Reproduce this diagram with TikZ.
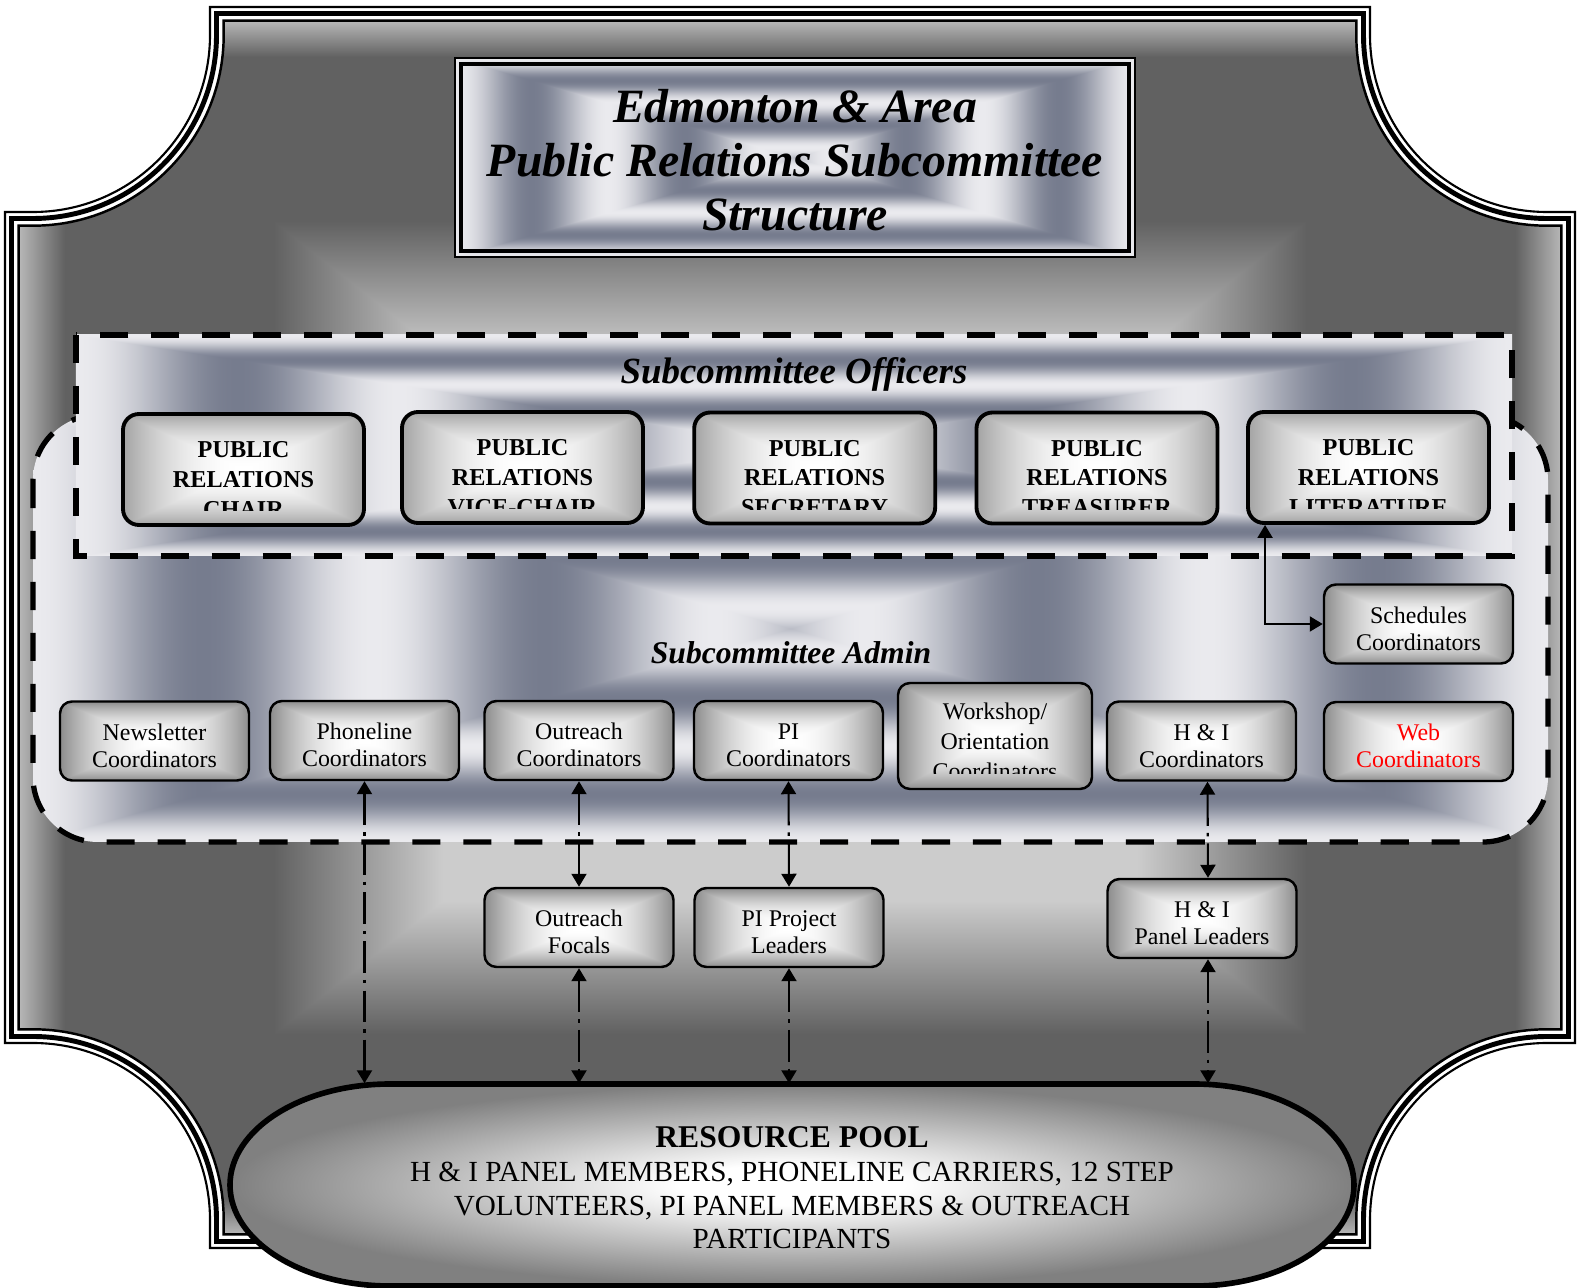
\documentclass[tikz,border=0pt]{standalone}
\usepackage{fontspec}
\setmainfont{Liberation Serif}
\usetikzlibrary{arrows.meta,positioning}

% concentric blue-grey bands (title, officers, admin)
\pgfdeclarefunctionalshading{steelband}{\pgfpoint{-50bp}{-50bp}}{\pgfpoint{50bp}{50bp}}{}{
  abs 25 div exch abs 25 div
  2 copy sub abs 3 1 roll add add 2 div
  1 exch sub 800 mul cos 1 add 2 div
  dup dup 0.376 mul 0.557 add
  exch 0.432 mul 0.486 add
  exch 3 -1 roll 0.455 mul 0.463 add 3 1 roll
}
% grey plaque behind everything
\pgfdeclarefunctionalshading{framegray}{\pgfpoint{-50bp}{-50bp}}{\pgfpoint{50bp}{50bp}}{}{
  abs 25 div exch abs 25 div
  2 copy sub abs 3 1 roll add add 2 div
  1 exch sub
  dup 0.33 sub 0.22 div dup abs exch 1 sub abs sub 1 add 2 div
  0.42 mul exch
  0.06 div 1 exch sub dup abs add 2 div 0.34 mul
  add 0.38 add dup dup
}
\pgfdeclarefunctionalshading{boxglow}{\pgfpoint{-50bp}{-50bp}}{\pgfpoint{50bp}{50bp}}{}{
  abs 25 div exch abs 25 div
  2 copy sub abs 3 1 roll add add 2 div
  dup mul 0.45 mul 1 exch sub dup dup
}
\pgfdeclarefunctionalshading{officerglow}{\pgfpoint{-50bp}{-50bp}}{\pgfpoint{50bp}{50bp}}{}{
  abs 25 div exch abs 25 div
  2 copy sub abs 3 1 roll add add 2 div
  dup mul 0.36 mul 1 exch sub dup dup
}
\pgfdeclareradialshading{poolglow}{\pgfpoint{0bp}{0bp}}{color(0bp)=(white); color(5bp)=(white); color(25bp)=(black!50); color(50bp)=(black!50)}

% outline of the plaque, #1 = inset
\newcommand{\plaquepath}[1]{(2.10+#1,-0.07-#1) -- (13.70-#1,-0.07-#1) -- (13.70-#1,-0.35)
  arc[start angle=180,end angle=270,radius=1.77+#1] -- (15.75-#1,-2.12-#1)
  -- (15.75-#1,-10.43+#1) -- (15.47,-10.43+#1)
  arc[start angle=90,end angle=180,radius=1.77+#1] -- (13.70-#1,-12.48+#1)
  -- (2.10+#1,-12.48+#1) -- (2.10+#1,-12.20)
  arc[start angle=0,end angle=90,radius=1.77+#1] -- (0.05+#1,-10.43+#1)
  -- (0.05+#1,-2.12-#1) -- (0.33,-2.12-#1)
  arc[start angle=270,end angle=360,radius=1.77+#1] -- cycle}

\begin{document}
\begin{tikzpicture}[x=1cm,y=1cm]
\tikzset{
  titlebox/.style={rectangle,draw,line width=0.6pt,minimum width=6.8cm,minimum height=1.99cm,shade,shading=steelband},
  titletext/.style={align=center,inner sep=0pt,font=\fontsize{13.6}{15.4}\selectfont\bfseries\itshape},
  heading/.style={inner sep=0pt,font=\fontsize{#1}{#1}\selectfont\bfseries\itshape},
  areadash/.style={line width=1.5pt,dash pattern=on 8pt off 6.5pt},
  officerbox/.style={rectangle,rounded corners=1.6mm,draw,line width=1.1pt,minimum width=2.41cm,minimum height=1.11cm,shade,shading=officerglow},
  officertext/.style={align=center,inner sep=0pt,font=\fontsize{6.9}{8.5}\selectfont\bfseries},
  admintext/.style={align=center,inner sep=0pt,font=\fontsize{6.8}{7.7}\selectfont},
  adminbox/.style={admintext,text height=5.3mm,rectangle,rounded corners=1.2mm,draw,line width=0.7pt,minimum width=1.89cm,minimum height=0.79cm,shade,shading=boxglow},
  pooltext/.style={align=center,inner sep=0pt,minimum width=11.24cm,minimum height=2.08cm,font=\fontsize{8.3}{9.6}\selectfont},
  link/.style={<->,>={Triangle[length=1.3mm,width=1.5mm]},line width=0.6pt},
  dashlink/.style={link,dash pattern=on 9pt off 2pt on 1pt off 2pt}
}
\useasboundingbox (0,0) rectangle (15.78,-12.88);
\fill[white] (0,0) rectangle (15.78,-12.88);

% plaque
\shade[shading=framegray] \plaquepath{0.137};
\draw[line width=0.6pt] \plaquepath{0};
\draw[line width=1.4pt] \plaquepath{0.065};
\draw[line width=0.7pt] \plaquepath{0.137};

% title
\node[titlebox] (n_title) at (7.95,-1.575) {};
\draw[line width=1.2pt] ([shift={(0.07,-0.07)}]n_title.north west) rectangle ([shift={(-0.07,0.07)}]n_title.south east);
\node[titletext] (n_titletext) at (7.95,-1.60) {Edmonton \& Area\\Public Relations Subcommittee\\Structure};

% admin and officer areas
\draw[areadash,shade,shading=steelband,rounded corners=6.5mm] (0.33,-4.15) rectangle (15.48,-8.42);
\draw[areadash,shade,shading=steelband] (0.76,-3.35) rectangle (15.12,-5.56);
\node[heading=10.5] (n_offhead) at (7.94,-3.74) {Subcommittee Officers};
\node[heading=9] (n_adminhead) at (7.91,-6.53) {Subcommittee Admin};

% officers
\node[officerbox] (n_chair) at (2.435,-4.695) {};
\node[officerbox] (n_vice) at (5.225,-4.675) {};
\node[officerbox] (n_secretary) at (8.147,-4.68) {};
\node[officerbox] (n_treasurer) at (10.97,-4.68) {};
\node[officerbox] (n_literature) at (13.685,-4.675) {};
\begin{scope}
\clip (n_chair.north west) rectangle ([yshift=1.6mm]n_chair.south east);
\node[officertext] (n_chairtext) at ([yshift=-1mm]n_chair.center) {PUBLIC\\RELATIONS\\CHAIR};
\end{scope}
\begin{scope}
\clip (n_vice.north west) rectangle ([yshift=1.6mm]n_vice.south east);
\node[officertext] (n_vicetext) at ([yshift=-1mm]n_vice.center) {PUBLIC\\RELATIONS\\VICE-CHAIR};
\end{scope}
\begin{scope}
\clip (n_secretary.north west) rectangle ([yshift=1.6mm]n_secretary.south east);
\node[officertext] (n_secretarytext) at ([yshift=-1mm]n_secretary.center) {PUBLIC\\RELATIONS\\SECRETARY};
\end{scope}
\begin{scope}
\clip (n_treasurer.north west) rectangle ([yshift=1.6mm]n_treasurer.south east);
\node[officertext] (n_treasurertext) at ([yshift=-1mm]n_treasurer.center) {PUBLIC\\RELATIONS\\TREASURER};
\end{scope}
\begin{scope}
\clip (n_literature.north west) rectangle ([yshift=1.6mm]n_literature.south east);
\node[officertext] (n_literaturetext) at ([yshift=-1mm]n_literature.center) {PUBLIC\\RELATIONS\\LITERATURE};
\end{scope}

% coordinators
\node[adminbox] (n_schedules) at (14.185,-6.24) {Schedules\\Coordinators};
\node[adminbox] (n_newsletter) at (1.545,-7.41) {Newsletter\\Coordinators};
\node[adminbox] (n_phoneline) at (3.645,-7.405) {Phoneline\\Coordinators};
\node[adminbox] (n_outreach) at (5.79,-7.405) {Outreach\\Coordinators};
\node[adminbox] (n_pi) at (7.885,-7.405) {PI\\Coordinators};
\node[adminbox,minimum width=1.94cm,minimum height=1.06cm] (n_workshop) at (9.95,-7.36) {};
\begin{scope}
\clip (n_workshop.north west) rectangle ([yshift=1.7mm]n_workshop.south east);
\node[admintext,font=\fontsize{6.8}{8.5}\selectfont] (n_workshoptext) at ([yshift=-0.5mm]n_workshop.center) {Workshop/\\Orientation\\Coordinators};
\end{scope}
\node[adminbox] (n_hi) at (12.015,-7.41) {H \& I\\Coordinators};
\node[adminbox,text=red] (n_web) at (14.185,-7.415) {Web\\Coordinators};
\node[adminbox] (n_focals) at (5.79,-9.275) {Outreach\\Focals};
\node[adminbox] (n_pileaders) at (7.89,-9.275) {PI Project\\Leaders};
\node[adminbox] (n_panel) at (12.02,-9.185) {H \& I\\Panel Leaders};

% resource pool
\draw[line width=1.6pt,shade,shading=poolglow] (3.90,-10.84) -- (11.94,-10.84) arc[start angle=90,end angle=-90,x radius=1.6,y radius=1.01] -- (3.90,-12.86) arc[start angle=270,end angle=90,x radius=1.6,y radius=1.01] -- cycle;
\node[pooltext] (n_pool) at (7.92,-11.88) {{\fontsize{9}{9.7}\selectfont\bfseries RESOURCE POOL}\\H \& I PANEL MEMBERS, PHONELINE CARRIERS, 12 STEP\\VOLUNTEERS, PI PANEL MEMBERS \& OUTREACH\\PARTICIPANTS};

% connectors
\draw[link] ([xshift=1.9mm]n_literature.south west) |- (n_schedules.west);
\draw[dashlink] (n_phoneline.south) -- (n_phoneline.south |- n_pool.north);
\draw[dashlink] (n_outreach.south) -- (n_focals.north);
\draw[dashlink] (n_focals.south) -- (n_focals.south |- n_pool.north);
\draw[dashlink] (n_pi.south) -- (n_pileaders.north);
\draw[dashlink] (n_pileaders.south) -- (n_pileaders.south |- n_pool.north);
\draw[dashlink] ([xshift=0.6mm]n_hi.south) -- ([xshift=0.6mm]n_panel.north);
\draw[dashlink] ([xshift=0.6mm]n_panel.south) -- ([xshift=0.6mm]n_panel.south |- n_pool.north);
\end{tikzpicture}
\end{document}
